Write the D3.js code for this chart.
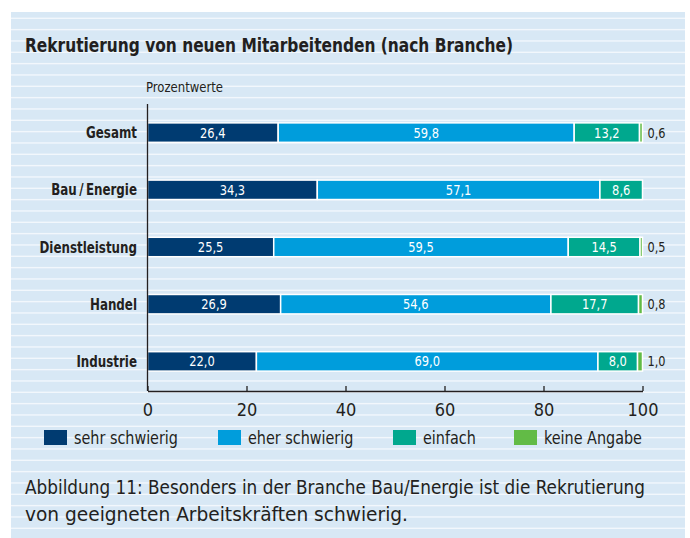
<!DOCTYPE html>
<html>
<head>
<meta charset="utf-8">
<script src="https://cdn.jsdelivr.net/npm/d3@7"></script>
<style>
  body { margin: 0; background: #fff; }
  svg { display: block; }
  text { font-family: "Liberation Sans Narrow", "DejaVu Sans Condensed", "Roboto", sans-serif; fill: #231f20; }
</style>
</head>
<body>
<div id="chart"></div>
<script>
// data
const categories = ["Gesamt", "Bau\u2009/\u2009Energie", "Dienstleistung", "Handel", "Industrie"];
const seriesNames = ["sehr schwierig", "eher schwierig", "einfach", "keine Angabe"];
const sehrSchwierig = [26.4, 34.3, 25.5, 26.9, 22.0];
const eherSchwierig = [59.8, 57.1, 59.5, 54.6, 69.0];
const einfach = [13.2, 8.6, 14.5, 17.7, 8.0];
const keineAngabe = [0.6, 0, 0.5, 0.8, 1.0];
const xTicks = [0, 20, 40, 60, 80, 100];

const colors = ["#003b71", "#009ddc", "#00a88e", "#62bb46"];

const W = 690, H = 538;

const svg = d3.select("#chart").append("svg")
    .attr("width", W)
    .attr("height", H);

// striped panel background
svg.append("rect")
    .attr("x", 11).attr("y", 12)
    .attr("width", 674).attr("height", H - 12)
    .attr("fill", "#d8e8f5");
const stripes = d3.range(18.3, H, 34 / 3);
svg.append("g").selectAll("rect").data(stripes).join("rect")
    .attr("x", 11).attr("y", d => d - 0.7)
    .attr("width", 674).attr("height", 1.4)
    .attr("fill", "#f2f7fc");

// title
svg.append("text")
    .attr("x", 25).attr("y", 52)
    .attr("font-size", 19.5).attr("font-weight", "bold")
    .attr("textLength", 488).attr("lengthAdjust", "spacingAndGlyphs")
    .text("Rekrutierung von neuen Mitarbeitenden (nach Branche)");

svg.append("text")
    .attr("x", 146).attr("y", 92)
    .attr("font-size", 14)
    .attr("textLength", 77).attr("lengthAdjust", "spacingAndGlyphs")
    .text("Prozentwerte");

const x = d3.scaleLinear().domain([0, 100]).range([147.5, 642.5]);
const y = d3.scaleBand().domain(categories).range([104, 390]).paddingInner(0.66).paddingOuter(0.33);

const rows = categories.map((c, i) => ({
    cat: c,
    vals: [sehrSchwierig[i], eherSchwierig[i], einfach[i], keineAngabe[i]]
}));
const stack = d3.stack().keys([0, 1, 2, 3]).value((d, k) => d.vals[k]);
const layers = stack(rows);

const g = svg.append("g");
layers.forEach((layer, k) => {
    g.append("g").selectAll("rect").data(layer.filter(d => d[1] - d[0] > 0)).join("rect")
        .attr("x", d => x(d[0]))
        .attr("y", d => y(d.data.cat))
        .attr("width", d => x(d[1]) - x(d[0]))
        .attr("height", y.bandwidth())
        .attr("fill", colors[k])
        .attr("stroke", "#ffffff")
        .attr("stroke-width", 1.5);
});

// value labels
const fmt = v => v.toFixed(1).replace(".", ",");
layers.forEach((layer, k) => {
    const lab = layer.filter(d => d[1] - d[0] > 0);
    if (k < 3) {
        g.append("g").selectAll("text").data(lab).join("text")
            .attr("transform", d => `translate(${(x(d[0]) + x(d[1])) / 2},${y(d.data.cat) + y.bandwidth() / 2 + 5}) scale(0.88,1)`)
            .attr("text-anchor", "middle")
            .attr("font-size", 14.5)
            .style("fill", "#ffffff")
            .text(d => fmt(d[1] - d[0]));
    } else {
        g.append("g").selectAll("text").data(lab).join("text")
            .attr("transform", d => `translate(${x(d[1]) + 5},${y(d.data.cat) + y.bandwidth() / 2 + 5}) scale(0.9,1)`)
            .attr("font-size", 14)
            .text(d => fmt(d[1] - d[0]));
    }
});

// category labels
svg.append("g").selectAll("text").data(categories).join("text")
    .attr("transform", d => `translate(137,${y(d) + y.bandwidth() / 2 + 5.5}) scale(0.8,1)`)
    .attr("text-anchor", "end")
    .attr("font-size", 16.5).attr("font-weight", "bold")
    .text(d => d);

// axes
svg.append("line")
    .attr("x1", 147.5).attr("x2", 147.5)
    .attr("y1", 104).attr("y2", 391)
    .attr("stroke", "#231f20").attr("stroke-width", 1.3);

const xAxis = svg.append("g")
    .attr("transform", "translate(0,391)")
    .call(d3.axisTop(x).tickValues(xTicks).tickSize(5).tickSizeOuter(0).tickFormat(d => d));
xAxis.select(".domain").attr("stroke", "#231f20").attr("stroke-width", 1.3);
xAxis.selectAll(".tick line").attr("stroke", "#231f20").attr("stroke-width", 1.3);
xAxis.selectAll(".tick text")
    .attr("y", 25).attr("dy", 0)
    .attr("font-size", 18)
    .attr("font-family", null)
    .style("fill", "#231f20");

// legend
const legendX = [44, 218, 393, 514];
const lg = svg.append("g").selectAll("g").data(seriesNames).join("g")
    .attr("transform", (d, i) => `translate(${legendX[i]},430)`);
lg.append("rect").attr("width", 23).attr("height", 15).attr("fill", (d, i) => colors[i]);
lg.append("text").attr("transform", "translate(30,14) scale(0.94,1)").attr("font-size", 17).text(d => d);

// caption
const caption = [
    "Abbildung 11: Besonders in der Branche Bau/Energie ist die Rekrutierung",
    "von geeigneten Arbeitskräften schwierig."
];
const captionWidth = [620, 383];
svg.append("g").selectAll("text").data(caption).join("text")
    .attr("x", 25)
    .attr("y", (d, i) => 494 + i * 27)
    .attr("font-size", 19.5)
    .attr("textLength", (d, i) => captionWidth[i]).attr("lengthAdjust", "spacingAndGlyphs")
    .text(d => d);
</script>
</body>
</html>
